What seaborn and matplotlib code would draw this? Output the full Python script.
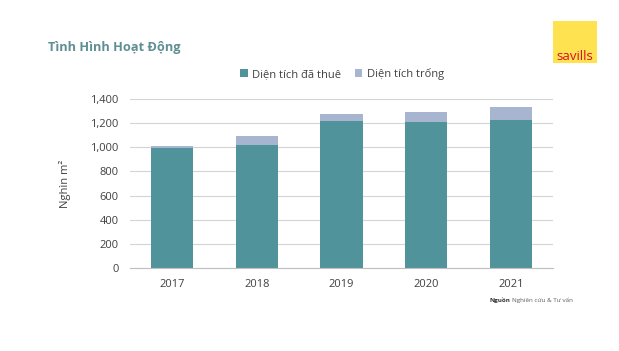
import numpy as np
import pandas as pd
import matplotlib
matplotlib.use("Agg")
import matplotlib.pyplot as plt
import seaborn as sns
from matplotlib.patches import Rectangle

years = ["2017", "2018", "2019", "2020", "2021"]
rented = [995, 1020, 1220, 1210, 1230]
vacant = [12, 75, 58, 85, 105]

teal = "#51939a"
light = "#a7b5d0"
grey_txt = "#404040"

sns.set_style("white")
plt.rcParams["font.family"] = ["Open Sans", "DejaVu Sans"]

df = pd.DataFrame({"year": years, "rented": rented, "vacant": vacant})
df["total"] = df["rented"] + df["vacant"]

fig = plt.figure(figsize=(6.19, 3.51), dpi=100)
ax = fig.add_axes([130 / 619, 1 - 268 / 351, 423 / 619, 169 / 351])

sns.barplot(data=df, x="year", y="total", color=light, width=0.5,
            saturation=1, ax=ax, label="Diện tích trống", linewidth=0)
sns.barplot(data=df, x="year", y="rented", color=teal, width=0.5,
            saturation=1, ax=ax, label="Diện tích đã thuê", linewidth=0)

ax.set_xlim(-0.5, 4.5)
ax.set_ylim(0, 1400)
ax.set_yticks(np.arange(0, 1401, 200))
ax.set_yticklabels([f"{v:,}" for v in range(0, 1401, 200)])
ax.yaxis.grid(True, color="#d4d4d4", linewidth=0.8)
ax.set_axisbelow(True)
for s in ["top", "right", "left"]:
    ax.spines[s].set_visible(False)
ax.spines["bottom"].set_color("#bfbfbf")
ax.tick_params(axis="y", length=0, labelsize=8, labelcolor=grey_txt, pad=8)
ax.tick_params(axis="x", length=0, labelsize=8, labelcolor=grey_txt, pad=8)
ax.set_xticks(np.arange(-0.5, 5, 1), minor=True)
ax.tick_params(axis="x", which="minor", length=4, color="#bfbfbf", direction="out")
ax.set_xlabel("")
ax.set_ylabel("Nghìn m²", fontsize=8, color=grey_txt, labelpad=14)

handles, labels = ax.get_legend_handles_labels()
if ax.get_legend() is not None:
    ax.get_legend().remove()
order = [labels.index("Diện tích đã thuê"), labels.index("Diện tích trống")]
leg = fig.legend([handles[i] for i in order], [labels[i] for i in order],
                 loc="center", bbox_to_anchor=(342 / 619, 1 - 74 / 351),
                 ncol=2, frameon=False, fontsize=8, handlelength=0.7,
                 handleheight=0.7, handletextpad=0.4, columnspacing=1.2)
for t in leg.get_texts():
    t.set_color(grey_txt)

fig.text(48 / 619, 1 - 48 / 351, "Tình Hình Hoạt Động", fontsize=9.2,
         fontweight="bold", color="#5f8f93", va="center", ha="left")

# logo
fig.patches.append(Rectangle((553 / 619, 1 - 63 / 351), 44 / 619, 42 / 351,
                             transform=fig.transFigure, facecolor="#ffe24f",
                             edgecolor="none"))
fig.text(575 / 619, 1 - 56 / 351, "savills", fontsize=9.5, color="#d8102a",
         ha="center", va="center")

fig.text(490 / 619, 1 - 300 / 351, "Nguồn", fontsize=4.5, fontweight="bold",
         color="#303030", ha="left", va="center")
fig.text(512 / 619, 1 - 300 / 351, "Nghiên cứu & Tư vấn", fontsize=4.5,
         color="#606060", ha="left", va="center")

fig.savefig("out.png", dpi=100)
